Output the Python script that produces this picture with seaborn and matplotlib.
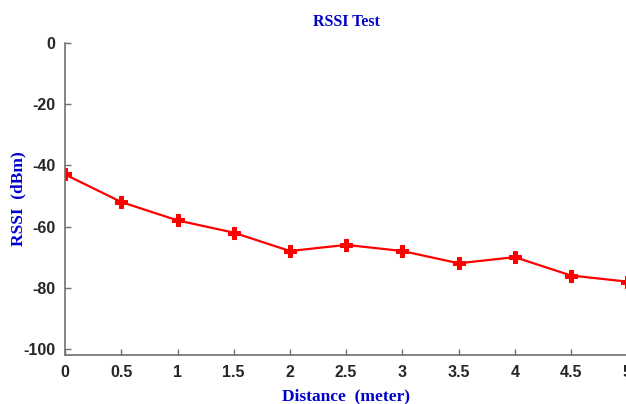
import matplotlib
matplotlib.use("Agg")
import matplotlib.pyplot as plt
import pandas as pd
import seaborn as sns

# values
distance = [0, 0.5, 1, 1.5, 2, 2.5, 3, 3.5, 4, 4.5, 5]
rssi = [-43, -52, -58, -62, -68, -66, -68, -72, -70, -76, -78]
x_ticks = [0, 0.5, 1, 1.5, 2, 2.5, 3, 3.5, 4, 4.5, 5]
x_tick_labels = ["0", "0.5", "1", "1.5", "2", "2.5", "3", "3.5", "4", "4.5", "5"]
y_ticks = [0, -20, -40, -60, -80, -100]

df = pd.DataFrame({"distance": distance, "rssi": rssi})

sns.set_style("white")
plt.rcParams["font.family"] = ["Liberation Serif", "DejaVu Serif"]
plt.rcParams["axes.unicode_minus"] = False

fig = plt.figure(figsize=(6.26, 4.04), dpi=100)
ax = fig.add_axes([0.104, 0.121, 0.898, 0.773])

sns.lineplot(data=df, x="distance", y="rssi", ax=ax, color="#ff0000", linewidth=1.6,
             marker="P", markersize=8, markeredgecolor="#ff0000", markerfacecolor="#ff0000")

ax.set_xlim(0, 5)
ax.set_ylim(-102, 0)
ax.set_xticks(x_ticks)
ax.set_xticklabels(x_tick_labels)
ax.set_yticks(y_ticks)

tick_font = matplotlib.font_manager.FontProperties(
    family=["Liberation Sans", "DejaVu Sans"], weight="bold", size=11.5)
for lab in ax.get_xticklabels() + ax.get_yticklabels():
    lab.set_fontproperties(tick_font)

ax.tick_params(axis="both", direction="in", length=4, width=1, color="#707070", pad=7, bottom=True, left=True)
for side in ["top", "right"]:
    ax.spines[side].set_visible(False)
for side in ["left", "bottom"]:
    ax.spines[side].set_color("#707070")
    ax.spines[side].set_linewidth(1.2)

blue = "#0000cc"
ax.set_title("RSSI Test", color=blue, fontweight="bold", fontsize=11.5, pad=12)
ax.set_xlabel("Distance  (meter)", color=blue, fontweight="bold", fontsize=12.5)
ax.set_ylabel("RSSI  (dBm)", color=blue, fontweight="bold", fontsize=12.5)
ax.yaxis.set_label_coords(-0.068, 0.5)
ax.xaxis.set_label_coords(0.5, -0.105)

plt.savefig("out.png", dpi=100)
plt.close()
